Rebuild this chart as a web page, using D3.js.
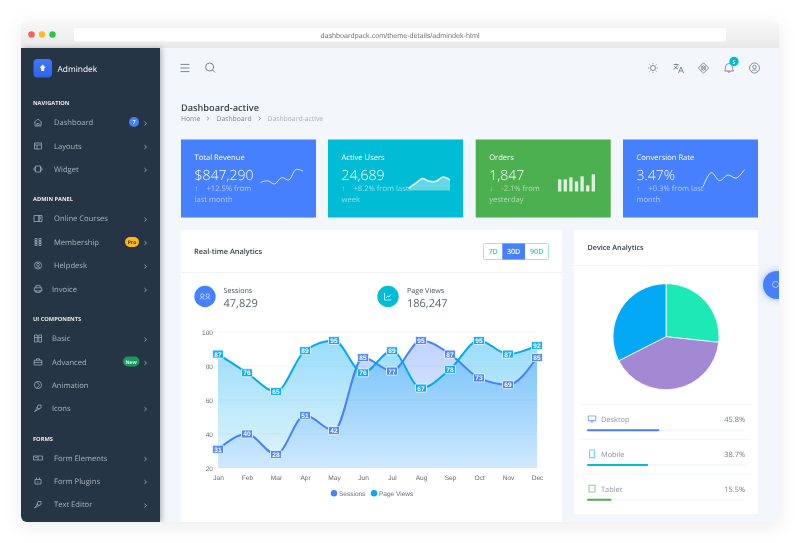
<!DOCTYPE html>
<html>
<head>
<meta charset="utf-8">
<script src="https://d3js.org/d3.v7.min.js"></script>
<style>
  html, body { margin: 0; padding: 0; background: #fff; overflow: hidden; }
  svg { display: block; filter: blur(0.4px); text-rendering: geometricPrecision; will-change: transform; }
  text { font-family: "Open Sans", sans-serif; }
  .chart-text { font-family: "Liberation Sans", sans-serif; }
</style>
</head>
<body>
<svg id="page" width="800" height="543"></svg>
<script>
// chart data
const months = ["Jan", "Feb", "Mar", "Apr", "May", "Jun", "Jul", "Aug", "Sep", "Oct", "Nov", "Dec"];
const sessions = [31, 40, 28, 51, 42, 85, 77, 95, 87, 73, 69, 85];
const pageViews = [87, 76, 65, 89, 95, 76, 89, 67, 78, 95, 87, 92];
const yTicks = [20, 40, 60, 80, 100];
const legendNames = ["Sessions", "Page Views"];
const seriesColors = ["#4680ff", "#04a9f5"];

// pie + device list
const pieValues = [26.7, 40.8, 32.5];
const pieColors = ["#1de9b6", "#a389d4", "#04a9f5"];
const deviceNames = ["Desktop", "Mobile", "Tablet"];
const devicePercents = [45.8, 38.7, 15.5];
const deviceColors = ["#4680ff", "#00bcd4", "#4caf50"];

// stat cards
const cardTitles = ["Total Revenue", "Active Users", "Orders", "Conversion Rate"];
const cardValues = ["$847,290", "24,689", "1,847", "3.47%"];
const cardColors = ["#4680ff", "#00bcd4", "#4caf50", "#4680ff"];
const cardSub1 = ["+12.5% from", "+8.2% from last", "-2.1% from", "+0.3% from last"];
const cardSub2 = ["last month", "week", "yesterday", "month"];
const cardArrows = ["↑", "↑", "↓", "↑"];
const sparkRevenue = [14, 16, 12, 20, 17, 30, 28];
const sparkUsers = [3, 10, 17, 13, 13, 19, 15];
const sparkOrders = [12, 12, 14, 10, 15, 6, 17];
const sparkConversion = [2, 25, 12, 21, 16, 30];

// sidebar
const menuSections = ["NAVIGATION", "ADMIN PANEL", "UI COMPONENTS", "FORMS"];
const menuSectionY = [105, 201, 321, 441];
const menuNames = ["Dashboard", "Layouts", "Widget", "Online Courses", "Membership", "Helpdesk", "Invoice",
  "Basic", "Advanced", "Animation", "Icons", "Form Elements", "Form Plugins", "Text Editor"];
const menuY = [122.5, 146, 169, 218.5, 242, 265.5, 289, 338.5, 362, 385, 408, 458, 481, 504.5];
const menuTextX = [54, 54, 54, 54, 54, 54, 52, 52, 52, 52, 52, 54, 54, 54];
const menuArrow = [1, 1, 1, 1, 1, 1, 1, 1, 1, 0, 1, 1, 1, 1];

const svg = d3.select("#page");
const defs = svg.append("defs");

function addText(parent, x, y, str, size, fill, opts) {
  opts = opts || {};
  return parent.append("text")
    .attr("x", x).attr("y", y)
    .attr("font-size", size)
    .attr("fill", fill)
    .attr("font-weight", opts.weight || 400)
    .attr("text-anchor", opts.anchor || "start")
    .attr("class", opts.cls || null)
    .text(str);
}

function addRect(parent, x, y, w, h, fill, r) {
  return parent.append("rect")
    .attr("x", x).attr("y", y).attr("width", w).attr("height", h)
    .attr("rx", r || 0).attr("fill", fill);
}

function addIcon(parent, x, y, d, stroke, width) {
  return parent.append("path")
    .attr("transform", `translate(${x},${y})`)
    .attr("d", d)
    .attr("fill", "none")
    .attr("stroke", stroke)
    .attr("stroke-width", width || 0.8);
}

function addGradient(id, stops) {
  const g = defs.append("linearGradient").attr("id", id)
    .attr("gradientUnits", "userSpaceOnUse")
    .attr("x1", 0).attr("x2", 0).attr("y1", stops[0]).attr("y2", stops[1]);
  g.append("stop").attr("offset", "0%").attr("stop-color", stops[2]).attr("stop-opacity", stops[3]);
  g.append("stop").attr("offset", "100%").attr("stop-color", stops[4]).attr("stop-opacity", stops[5]);
}

// window frame
const shadow = defs.append("filter").attr("id", "win-shadow")
  .attr("x", "-10%").attr("y", "-10%").attr("width", "120%").attr("height", "120%");
shadow.append("feDropShadow").attr("dx", 0).attr("dy", 4).attr("stdDeviation", 9)
  .attr("flood-color", "#000").attr("flood-opacity", 0.08);
const sideShadow = defs.append("filter").attr("id", "side-shadow")
  .attr("x", "-10%").attr("y", "-5%").attr("width", "125%").attr("height", "110%");
sideShadow.append("feDropShadow").attr("dx", 2).attr("dy", 0).attr("stdDeviation", 2.5)
  .attr("flood-color", "#000").attr("flood-opacity", 0.25);
const btnShadow = defs.append("filter").attr("id", "btn-shadow")
  .attr("x", "-50%").attr("y", "-50%").attr("width", "200%").attr("height", "200%");
btnShadow.append("feDropShadow").attr("dx", 0).attr("dy", 0).attr("stdDeviation", 3.5)
  .attr("flood-color", "#4680ff").attr("flood-opacity", 0.55);

addGradient("title-grad", [21, 48, "#f8f8f8", 1, "#e9e9e9", 1]);
addGradient("logo-grad", [59, 77.5, "#3f78f5", 1, "#2f62ea", 1]);
addGradient("fill-sessions", [332, 468, "#4680ff", 0.36, "#4680ff", 0.1]);
addGradient("fill-views", [332, 468, "#04a9f5", 0.42, "#04a9f5", 0.12]);

defs.append("clipPath").attr("id", "win-clip")
  .append("rect").attr("x", 21).attr("y", 21).attr("width", 758).attr("height", 501).attr("rx", 6);

addRect(svg, 21, 21, 758, 501, "#f3f6fa", 6).attr("filter", "url(#win-shadow)");
const win = svg.append("g").attr("clip-path", "url(#win-clip)");

addRect(win, 21, 21, 758, 27, "url(#title-grad)");
win.selectAll("circle.light")
  .data(["#fc5f57", "#fcbb2e", "#2ac840"])
  .enter().append("circle")
  .attr("class", "light")
  .attr("cx", (d, i) => 31.5 + i * 10.5)
  .attr("cy", 34.5)
  .attr("r", 3.2)
  .attr("fill", d => d);
addRect(win, 74, 28, 652, 13.5, "#fff", 2.5);
addText(win, 400, 37.5, "dashboardpack.com/theme-details/admindek-html", 7.2, "#777", { anchor: "middle", cls: "chart-text" });

// sidebar
addRect(win, 21, 48, 139, 474, "#253444").attr("filter", "url(#side-shadow)");
addRect(win, 33.5, 59, 18.5, 18.5, "url(#logo-grad)", 4);
win.append("path").attr("transform", "translate(42.7,68)")
  .attr("d", "M0,-3.5L2.8,-0.5L1.5,0.6V3H-1.5V0.6L-2.8,-0.5Z").attr("fill", "#fff");
addText(win, 57.5, 71.5, "Admindek", 8.4, "#fff", { weight: 500 });

menuSections.forEach(function(title, i) {
  addText(win, 33, menuSectionY[i], title, 5.7, "#e3e8ee", { weight: 700 });
});

const menuIcons = [
  "M-4,0L0,-3.5L4,0M-3,-0.5V3.5H3V-0.5M-1,3.5V1H1V3.5",
  "M-3.5,-3H3.5V3H-3.5ZM-3.5,-1H3.5M-1,-1V3",
  "M-2.5,-3H2.5V3H-2.5ZM-2.5,-1.5L-4,-1V1L-2.5,1.5M2.5,-1.5L4,-1V1L2.5,1.5",
  "M-4,-3H1V3H-4ZM1,-3H4V3H1ZM2,-1.5H3M2,0H3",
  "M-3,-3.5H-1V-1.5H-3ZM1,-3.5H3V-1.5H1ZM-3,-1H-1V1H-3ZM1,-1H3V1H1ZM-3,1.5H-1V3.5H-3ZM1,1.5H3V3.5H1Z",
  "M3.6,0A3.6,3.6 0 1 1 -3.6,0A3.6,3.6 0 1 1 3.6,0M1.4,-0.8A1.4,1.4 0 1 1 -1.4,-0.8A1.4,1.4 0 1 1 1.4,-0.8M-2.2,2.6C-1.5,1 1.5,1 2.2,2.6",
  "M-3.8,-1.2H3.8V2H-3.8ZM-2.2,-1.2V-3.4H2.2V-1.2M-2.2,1V3.4H2.2V1",
  "M-3.5,-3.5H-0.7V3.5H-3.5ZM0.7,-3.5H3.5V3.5H0.7ZM-3.5,-1H-0.7M0.7,-1H3.5",
  "M-3.8,-1.8H3.8V3H-3.8ZM-1.5,-1.8V-3.2H1.5V-1.8M-3.8,0.4H3.8",
  "M3.6,0A3.6,3.6 0 1 1 -3.6,0A3.6,3.6 0 1 1 3.6,0M-1.5,-3L1.5,0L-1,3",
  "M-3.5,3.5L-1,0.5L0,-3L3,-3L3,0L0,1.5ZM-1.5,-0.5L1.5,1",
  "M-4.5,-2H4.5V2H-4.5ZM0,-2V2M-3,-0.5H-1",
  "M-3,-1.5H3V3H-3ZM-1.5,-1.5V-3.5M1.5,-1.5V-3.5M0,0V1.5",
  "M-3.5,3.5L-1,0.5L0,-3L3,-3L3,0L0,1.5ZM-1.5,-0.5L1.5,1"
];

menuNames.forEach(function(name, i) {
  const y = menuY[i];
  addIcon(win, 38, y, menuIcons[i], "#aeb8c4", 0.7);
  addText(win, menuTextX[i], y + 2.8, name, 7.6, "#a9b4c0");
  if (menuArrow[i]) {
    addIcon(win, 145.5, y + 1, "M-1,-1.8L1,0L-1,1.8", "#aeb8c4", 0.8);
  }
});

// sidebar badges
win.append("circle").attr("cx", 134).attr("cy", 122).attr("r", 5).attr("fill", "#4680ff");
addText(win, 134, 124.2, "7", 5.5, "#fff", { anchor: "middle", weight: 600 });
addRect(win, 125, 237, 14, 10, "#fdb913", 5);
addText(win, 132, 244, "Pro", 5, "#3d3a20", { anchor: "middle", weight: 700 });
addRect(win, 123, 356.5, 16.5, 10, "#179a5a", 5);
addText(win, 131.2, 363.5, "New", 5, "#e9f7ef", { anchor: "middle", weight: 700 });

// top bar
addIcon(win, 185, 68, "M-4.5,-3.6H4.5M-4.5,0H4.5M-4.5,3.6H4.5", "#6c7884", 0.9);
addIcon(win, 210, 67.5, "M3.6,-0.5A4,4 0 1 1 -4.4,-0.5A4,4 0 1 1 3.6,-0.5M2.6,2.6L5,5", "#6c7884", 0.9);
addIcon(win, 653, 68, "M2.5,0A2.5,2.5 0 1 1 -2.5,0A2.5,2.5 0 1 1 2.5,0M0,-5V-3.7M0,3.7V5M-5,0H-3.7M3.7,0H5M-3.5,-3.5L-2.6,-2.6M2.6,2.6L3.5,3.5M3.5,-3.5L2.6,-2.6M-2.6,2.6L-3.5,3.5", "#6c7884", 0.8);
addIcon(win, 678.5, 68, "M-5,-3.5H0M-2.5,-4.5V-3.5M-1,-3.5C-1.5,-1 -3,0.5 -5,1M-4,-2C-3.5,-0.5 -2,0.5 -0.5,1M0,5L2.5,-1L5,5M1,3H4", "#6c7884", 0.8);
addIcon(win, 703.5, 68, "M0,-5.2L5.2,0L0,5.2L-5.2,0ZM0,-2.4L2.4,0L0,2.4L-2.4,0ZM-2.6,-2.6L2.6,2.6M2.6,-2.6L-2.6,2.6", "#6c7884", 0.8);
addIcon(win, 729, 68, "M-4.5,3C-3.5,2 -3.5,0.5 -3.5,-1A3.5,3.5 0 0 1 3.5,-1C3.5,0.5 3.5,2 4.5,3ZM-1.2,3C-1,5 1,5 1.2,3", "#6c7884", 0.8);
win.append("circle").attr("cx", 734).attr("cy", 61.5).attr("r", 4.7).attr("fill", "#00bcd4");
addText(win, 734, 63.5, "5", 5, "#fff", { anchor: "middle", weight: 600 });
addIcon(win, 754.5, 68, "M5,0A5,5 0 1 1 -5,0A5,5 0 1 1 5,0M1.8,-1A1.8,1.8 0 1 1 -1.8,-1A1.8,1.8 0 1 1 1.8,-1M-3,3.6C-2,1.4 2,1.4 3,3.6", "#6c7884", 0.8);

// page title
addText(win, 181, 110.5, "Dashboard-active", 9.2, "#3c4450", { weight: 600 });
addText(win, 181, 121, "Home", 6.8, "#7d8792");
addIcon(win, 208, 118.5, "M-1,-1.8L1,0L-1,1.8", "#7d8792", 0.7);
addText(win, 216.5, 121, "Dashboard", 6.8, "#7d8792");
addIcon(win, 259.5, 118.5, "M-1,-1.8L1,0L-1,1.8", "#7d8792", 0.7);
addText(win, 267.5, 121, "Dashboard-active", 6.8, "#a9b1ba");

// stat cards
const cardX = [181, 328, 475.7, 623];
cardTitles.forEach(function(title, i) {
  const x = cardX[i];
  const card = win.append("g");
  addRect(card, x, 139.5, 135, 78, cardColors[i]);
  addText(card, x + 13.5, 159.5, title, 7.6, "#fff", { weight: 500 });
  addText(card, x + 13.5, 179.5, cardValues[i], 14, "#fff", { weight: 300 });
  addText(card, x + 13.5, 190.5, cardArrows[i], 7.5, "#fff").attr("opacity", 0.5);
  addText(card, x + 25.5, 190.5, cardSub1[i], 7.6, "#fff").attr("opacity", 0.55);
  addText(card, x + 13.5, 201.5, cardSub2[i], 7.6, "#fff").attr("opacity", 0.55);
});

// card sparklines
const revX = d3.scalePoint().domain(d3.range(sparkRevenue.length)).range([260.5, 303]);
const revY = d3.scaleLinear().domain([12, 30]).range([184, 169.5]);
win.append("path").datum(sparkRevenue)
  .attr("d", d3.line().x((d, i) => revX(i)).y(d => revY(d)).curve(d3.curveCatmullRom))
  .attr("fill", "none").attr("stroke", "#fff").attr("stroke-opacity", 0.75).attr("stroke-width", 1);

const usersX = d3.scalePoint().domain(d3.range(sparkUsers.length)).range([408.5, 450]);
const usersY = d3.scaleLinear().domain([0, 19]).range([190.5, 177]);
win.append("path").datum(sparkUsers)
  .attr("d", d3.area().x((d, i) => usersX(i)).y0(usersY(0)).y1(d => usersY(d)).curve(d3.curveCatmullRom))
  .attr("fill", "#fff").attr("fill-opacity", 0.4);
win.append("path").datum(sparkUsers)
  .attr("d", d3.line().x((d, i) => usersX(i)).y(d => usersY(d)).curve(d3.curveCatmullRom))
  .attr("fill", "none").attr("stroke", "#fff").attr("stroke-width", 1.5);

const ordersX = d3.scaleBand().domain(d3.range(sparkOrders.length)).range([558, 595]).paddingInner(0.4);
const ordersY = d3.scaleLinear().domain([0, 17]).range([191.5, 174.3]);
win.selectAll("rect.order-bar")
  .data(sparkOrders)
  .enter().append("rect")
  .attr("class", "order-bar")
  .attr("x", (d, i) => ordersX(i))
  .attr("y", d => ordersY(d))
  .attr("width", ordersX.bandwidth())
  .attr("height", d => ordersY(0) - ordersY(d))
  .attr("fill", "#fff")
  .attr("opacity", 0.8);

const convX = d3.scalePoint().domain(d3.range(sparkConversion.length)).range([703, 744.5]);
const convY = d3.scaleLinear().domain([0, 30]).range([188, 169.5]);
win.append("path").datum(sparkConversion)
  .attr("d", d3.line().x((d, i) => convX(i)).y(d => convY(d)).curve(d3.curveCatmullRom))
  .attr("fill", "none").attr("stroke", "#fff").attr("stroke-opacity", 0.8).attr("stroke-width", 1);

// analytics panel
addRect(win, 181, 230, 381, 292, "#fff");
win.append("line").attr("x1", 181).attr("x2", 562).attr("y1", 272.5).attr("y2", 272.5).attr("stroke", "#f0f3f6");
addText(win, 194, 253.5, "Real-time Analytics", 7.4, "#363d47", { weight: 600 });

// range buttons
const rangeLabels = ["7D", "30D", "90D"];
const rangeX = [484, 502.3, 525];
const rangeW = [18.3, 22.7, 23.5];
addRect(win, 483.5, 243.5, 65, 16, "#fff", 1).attr("stroke", "#a5e6d6").attr("stroke-width", 1);
rangeLabels.forEach(function(label, i) {
  if (i === 1) addRect(win, rangeX[i], 243.5, rangeW[i], 16, "#4680ff");
  addText(win, rangeX[i] + rangeW[i] / 2, 254, label, 7.2, i === 1 ? "#fff" : "#3fcaa8", { anchor: "middle", weight: 600 });
});

// KPI row
win.append("circle").attr("cx", 205).attr("cy", 296.5).attr("r", 10.7).attr("fill", "#4680ff");
addIcon(win, 205, 296.5, "M-1,-1A1.7,1.7 0 1 1 -4.4,-1A1.7,1.7 0 1 1 -1,-1M4.4,-1A1.7,1.7 0 1 1 1,-1A1.7,1.7 0 1 1 4.4,-1M-5,3C-5,0.8 -1,0.8 -0.8,3M0.8,3C1,0.8 5,0.8 5,3", "#d5e2ff", 0.8);
addText(win, 223.5, 292.5, "Sessions", 7.2, "#4c545e");
addText(win, 223.5, 306.5, "47,829", 11, "#5a626c");
win.append("circle").attr("cx", 388).attr("cy", 296.5).attr("r", 10.7).attr("fill", "#00bcd4");
addIcon(win, 388, 296.5, "M-3.5,-3.5V3.5H3.5M-2,1.5L-0.5,-0.5L1,0.5L3,-2", "#e0f8fb", 0.8);
addText(win, 407, 292.5, "Page Views", 7.2, "#4c545e");
addText(win, 407, 306.5, "186,247", 11, "#5a626c");

// main area chart
const x = d3.scalePoint().domain(months).range([218, 537]);
const y = d3.scaleLinear().domain([20, 100]).range([468, 332]);
const chart = win.append("g");

chart.selectAll("line.grid")
  .data(yTicks)
  .enter().append("line")
  .attr("class", "grid")
  .attr("x1", 218).attr("x2", 537)
  .attr("y1", d => y(d)).attr("y2", d => y(d))
  .attr("stroke", "#eff1f3").attr("stroke-width", 0.8);

const yAxis = d3.axisLeft(y).tickValues(yTicks).tickSize(0).tickPadding(5);
const xAxis = d3.axisBottom(x).tickSize(0).tickPadding(7.5);
[chart.append("g").attr("transform", "translate(218,0)").call(yAxis),
 chart.append("g").attr("transform", "translate(0,468)").call(xAxis)].forEach(function(axis) {
  axis.select(".domain").remove();
  axis.selectAll("text")
    .attr("class", "chart-text")
    .attr("font-size", 6.6)
    .attr("fill", "#666d75");
});

const area = d3.area()
  .x((d, i) => x(months[i]))
  .y0(y(20))
  .y1(d => y(d))
  .curve(d3.curveMonotoneX);
const line = d3.line()
  .x((d, i) => x(months[i]))
  .y(d => y(d))
  .curve(d3.curveMonotoneX);

chart.append("path").datum(sessions).attr("d", area).attr("fill", "url(#fill-sessions)");
chart.append("path").datum(pageViews).attr("d", area).attr("fill", "url(#fill-views)");

[sessions, pageViews].forEach(function(series, s) {
  chart.append("path").datum(series)
    .attr("d", line)
    .attr("fill", "none")
    .attr("stroke", seriesColors[s])
    .attr("stroke-width", 2);
});

// data labels
[sessions, pageViews].forEach(function(series, s) {
  const labels = chart.append("g").selectAll("g")
    .data(series)
    .enter().append("g")
    .attr("transform", (d, i) => `translate(${x(months[i])},${y(d)})`);
  labels.append("rect")
    .attr("x", -5.5).attr("y", -4)
    .attr("width", 11).attr("height", 8)
    .attr("rx", 0.8)
    .attr("fill", seriesColors[s])
    .attr("fill-opacity", 0.9)
    .attr("stroke", "#fff")
    .attr("stroke-opacity", 0.75)
    .attr("stroke-width", 1);
  labels.append("text")
    .attr("class", "chart-text")
    .attr("text-anchor", "middle")
    .attr("y", 2.4)
    .attr("font-size", 6.6)
    .attr("font-weight", 700)
    .attr("fill", "#fff")
    .text(d => d);
});

// legend
const legendX = [334, 374];
legendNames.forEach(function(name, i) {
  win.append("circle").attr("cx", legendX[i]).attr("cy", 493.3).attr("r", 3.2).attr("fill", seriesColors[i]);
  addText(win, legendX[i] + 5, 495.5, name, 6.5, "#666d75", { cls: "chart-text" });
});

// device panel
addRect(win, 574, 230, 184, 284, "#fff");
win.append("line").attr("x1", 574).attr("x2", 758).attr("y1", 265.5).attr("y2", 265.5).attr("stroke", "#f0f3f6");
addText(win, 587.5, 250, "Device Analytics", 7.2, "#363d47", { weight: 600 });

const pie = d3.pie().sort(null);
const arc = d3.arc().innerRadius(0).outerRadius(53);
win.append("g").attr("transform", "translate(666,336.7)")
  .selectAll("path")
  .data(pie(pieValues))
  .enter().append("path")
  .attr("d", arc)
  .attr("fill", (d, i) => pieColors[i])
  .attr("stroke", "#fff")
  .attr("stroke-width", 0.8);

const barScale = d3.scaleLinear().domain([0, 100]).range([0, 158]);
const deviceIcons = [
  "M-3.6,-3H3.6V1.6H-3.6ZM-1.5,3H1.5M0,1.6V3",
  "M-2.4,-3.8H2.4V3.8H-2.4Z",
  "M-3,-3.4H3V3.4H-3Z"
];
deviceNames.forEach(function(name, i) {
  const rowY = 404.5 + i * 34.8;
  win.append("line").attr("x1", 581).attr("x2", 751).attr("y1", rowY).attr("y2", rowY).attr("stroke", "#f2f4f7");
  addIcon(win, 592, rowY + 14.5, deviceIcons[i], deviceColors[i], 1.1).attr("opacity", 0.6);
  addText(win, 601, rowY + 17.5, name, 7.4, "#8f969e");
  addText(win, 745, rowY + 17.5, devicePercents[i] + "%", 7.4, "#757c84", { anchor: "end", weight: 500 });
  addRect(win, 587, rowY + 24.7, barScale(100), 2, "#f3f6fa", 1);
  addRect(win, 587, rowY + 24.7, barScale(devicePercents[i]), 2, deviceColors[i], 1);
});

// floating settings button
win.append("circle").attr("cx", 777).attr("cy", 285).attr("r", 14)
  .attr("fill", "#4680ff").attr("filter", "url(#btn-shadow)");
addIcon(win, 775.5, 284.5, "M3,0A3,3 0 1 1 0,-3C1.5,-3 3,-2 3,-1", "#cfdcff", 0.8);
</script>
</body>
</html>
